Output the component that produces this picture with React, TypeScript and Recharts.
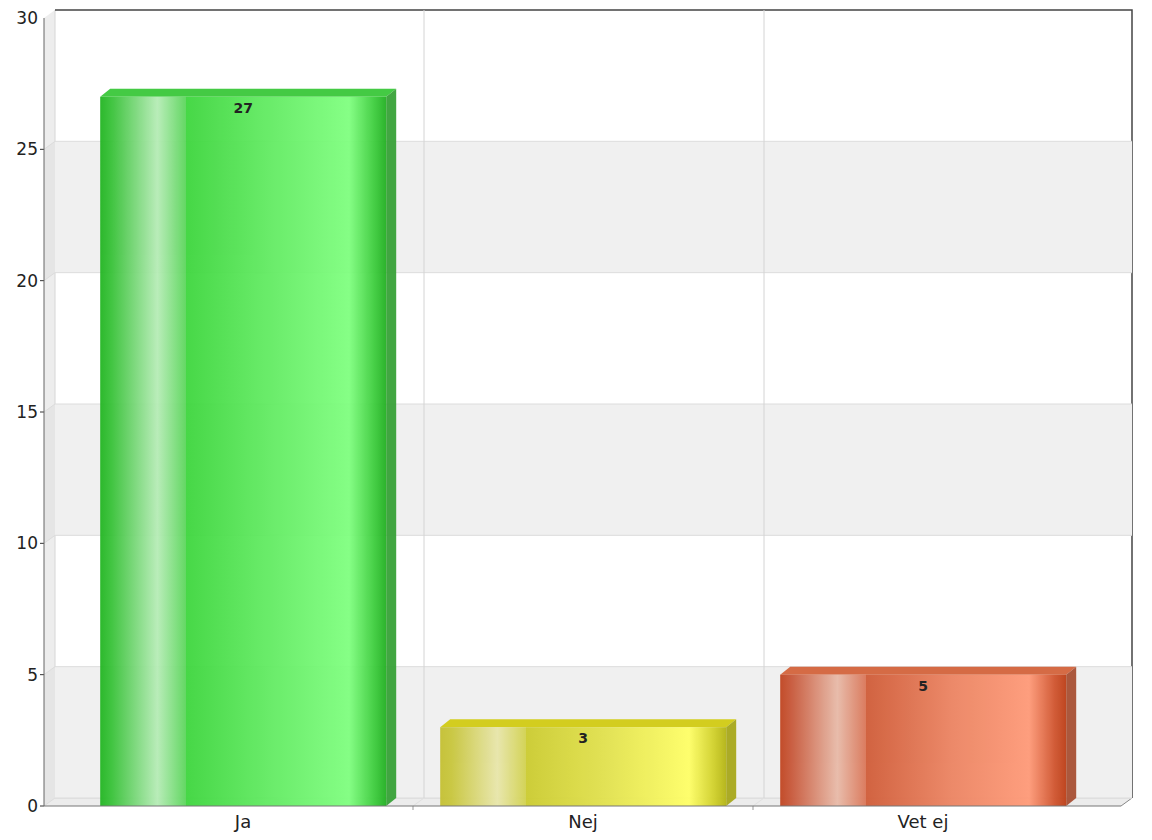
import React from 'react';
import { BarChart, Bar, XAxis, YAxis, ReferenceArea, ReferenceLine, LabelList } from 'recharts';

// answers and counts
const categories = ['Ja', 'Nej', 'Vet ej'];
const counts = [27, 3, 5];
const yTicks = [0, 5, 10, 15, 20, 25, 30];
const boundaryCats = ['Nej', 'Vet ej'];

const data = categories.map((c, i) => ({ name: c, count: counts[i] }));

// 3d look
const DX = 10;
const DY = 8;
const WALL_DX = 11;
const PAD_L = 29;
const PAD_R = 28;

const palettes = [
    {
        front: [[0, '#22b522'], [0.04, '#38c238'], [0.2, '#b6ecb6'], [0.3, '#5cd65c'], [0.301, '#3ed63e'], [0.6, '#64ec64'], [0.87, '#80ff80'], [0.96, '#3ccc3c'], [1, '#22b022']],
        top: '#3ac83a',
        side: '#38a238',
    },
    {
        front: [[0, '#c4c032'], [0.04, '#c8c63c'], [0.2, '#e8e6aa'], [0.3, '#d2d250'], [0.301, '#cccc30'], [0.6, '#e4e450'], [0.87, '#ffff66'], [0.96, '#cfcf28'], [1, '#b4b414']],
        top: '#d2cc14',
        side: '#a8a81c',
    },
    {
        front: [[0, '#c04420'], [0.04, '#c8583a'], [0.2, '#e8baa8'], [0.3, '#da7658'], [0.301, '#d05c38'], [0.6, '#ec8462'], [0.87, '#ff9a78'], [0.96, '#d0542e'], [1, '#bc3e16']],
        top: '#d4643c',
        side: '#a85034',
    },
];

const Walls = (props: any) => {
    const { x, y, width, height } = props;
    const L = x - PAD_L;
    const R = x + width + PAD_R;
    const T = y;
    const B = y + height;
    return (
        <g>
            <polygon points={`${L},${T} ${L + WALL_DX},${T - DY} ${L + WALL_DX},${B - DY} ${L},${B}`} fill="#ededed" />
            <rect x={L + WALL_DX} y={T - DY} width={R - L} height={B - T} fill="#ffffff" />
            <polygon points={`${L},${B} ${R},${B} ${R + WALL_DX},${B - DY} ${L + WALL_DX},${B - DY}`} fill="#ececec" />
            <line x1={L + WALL_DX} y1={T - DY} x2={L + WALL_DX} y2={B - DY} stroke="#d6d6d6" />
            <polyline points={`${L + WALL_DX},${T - DY} ${R + WALL_DX},${T - DY} ${R + WALL_DX},${B - DY}`} fill="none" stroke="#444" strokeWidth={1.5} />
            <line x1={R} y1={B} x2={R + WALL_DX} y2={B - DY} stroke="#888" />
            <line x1={L + WALL_DX} y1={B - DY} x2={R + WALL_DX} y2={B - DY} stroke="#dadada" />
        </g>
    );
};

const Band = (props: any) => {
    const { x, y, width, height, shade } = props;
    const L = x - PAD_L;
    const R = x + width + PAD_R;
    const T = y;
    const B = y + height;
    return (
        <g>
            {shade && (
                <>
                    <polygon points={`${L},${T} ${L + WALL_DX},${T - DY} ${L + WALL_DX},${B - DY} ${L},${B}`} fill="#e5e5e5" />
                    <rect x={L + WALL_DX} y={T - DY} width={R - L} height={B - T} fill="#f0f0f0" />
                </>
            )}
            <polyline points={`${L},${B} ${L + WALL_DX},${B - DY} ${R + WALL_DX},${B - DY}`} fill="none" stroke="#dcdcdc" />
            <line x1={L - 4} y1={B} x2={L} y2={B} stroke="#333" />
        </g>
    );
};

const BoundaryLine = (props: any) => {
    const { x1, y1, x2, y2 } = props;
    const top = Math.min(y1, y2);
    const bottom = Math.max(y1, y2);
    return (
        <g>
            <line x1={x1 + WALL_DX} y1={top - DY} x2={x2 + WALL_DX} y2={bottom - DY} stroke="#d4d4d4" />
            <line x1={x1} y1={bottom} x2={x1 + WALL_DX} y2={bottom - DY} stroke="#e0e0e0" />
            <line x1={x1} y1={bottom} x2={x1} y2={bottom + 4} stroke="#999" />
        </g>
    );
};

const Bar3D = (props: any) => {
    const { x, y, width, height, index } = props;
    const p = palettes[index % palettes.length];
    const id = `barGrad${index}`;
    return (
        <g opacity={0.95}>
            <defs>
                <linearGradient id={id} x1="0" y1="0" x2="1" y2="0">
                    {p.front.map(([o, c]: any, i: number) => (
                        <stop key={i} offset={o} stopColor={c} />
                    ))}
                </linearGradient>
            </defs>
            <polygon points={`${x},${y} ${x + DX},${y - DY} ${x + width + DX},${y - DY} ${x + width},${y}`} fill={p.top} />
            <polygon points={`${x + width},${y} ${x + width + DX},${y - DY} ${x + width + DX},${y + height - DY} ${x + width},${y + height}`} fill={p.side} />
            <rect x={x} y={y} width={width} height={height} fill={`url(#${id})`} />
        </g>
    );
};

export default function App() {
    const segments = yTicks.slice(0, -1).map((t, i) => [t, yTicks[i + 1]]);
    return (
        <div style={{ position: 'absolute', left: 0, top: 0, width: 1152, height: 840, background: '#fff', fontFamily: '"DejaVu Sans", sans-serif' }}>
            <BarChart width={1152} height={840} data={data}
                      margin={{ top: 18, right: 31, bottom: 0, left: 0 }}
                      barCategoryGap="8%">
                <XAxis dataKey="name" height={34} padding={{ left: PAD_L, right: PAD_R }}
                       tickLine={false} tickMargin={3}
                       axisLine={{ stroke: '#777' }}
                       tick={{ fontSize: 18, fill: '#222' }} />
                <YAxis width={44} domain={[0, 30]} ticks={yTicks} interval={0}
                       tickSize={4} tickMargin={2} tickLine={false}
                       axisLine={{ stroke: '#666' }}
                       tick={{ fontSize: 17, fill: '#222' }} />
                <ReferenceArea y1={0} y2={30} shape={(p: any) => <Walls {...p} />} ifOverflow="visible" />
                {segments.map(([lo, hi], i) => (
                    <ReferenceArea key={lo} y1={lo} y2={hi} ifOverflow="visible"
                                   shape={(p: any) => <Band {...p} shade={i % 2 === 0} />} />
                ))}
                {boundaryCats.map((c) => (
                    <ReferenceLine key={c} x={c} position="start" ifOverflow="visible"
                                   shape={(p: any) => <BoundaryLine {...p} />} />
                ))}
                <Bar dataKey="count" isAnimationActive={false} shape={(p: any) => <Bar3D {...p} />}>
                    <LabelList dataKey="count" position="insideTop" offset={6}
                               fill="#222" fontSize={14} fontWeight="bold" fontFamily='"DejaVu Sans", sans-serif' />
                </Bar>
            </BarChart>
        </div>
    );
}
